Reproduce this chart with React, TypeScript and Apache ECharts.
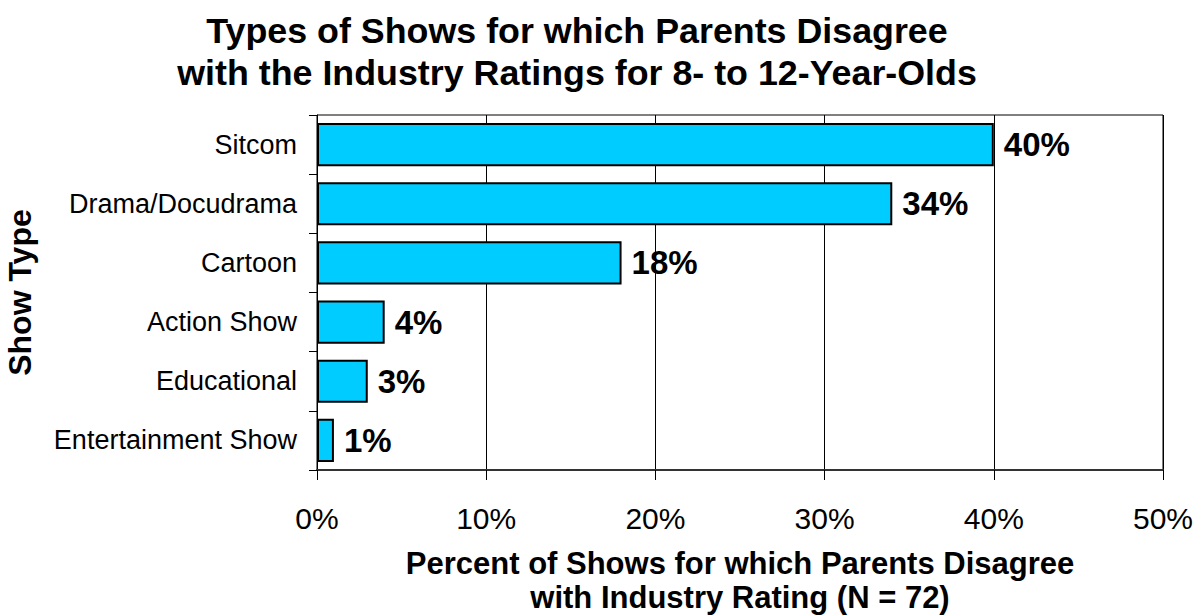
import React, { useEffect, useRef } from "react";
import * as echarts from "echarts";

const categories = ["Sitcom", "Drama/Docudrama", "Cartoon", "Action Show", "Educational", "Entertainment Show"];
const values = [40, 34, 18, 4, 3, 1];
const titleLines = ["Types of Shows for which Parents Disagree", "with the Industry Ratings for 8- to 12-Year-Olds"];
const xName = ["Percent of Shows for which Parents Disagree", "with Industry Rating (N = 72)"];
const yName = "Show Type";

const FONT = "'Liberation Sans', Arial, Helvetica, sans-serif";

export default function App() {
  const ref = useRef<HTMLDivElement>(null);
  useEffect(() => {
    document.body.style.margin = "0";
    const chart = echarts.init(ref.current!, undefined, { renderer: "svg" });
    chart.setOption({
      animation: false,
      backgroundColor: "#fff",
      textStyle: { fontFamily: FONT },
      title: {
        text: titleLines.join("\n"),
        left: 572,
        top: 5,
        textAlign: "center",
        textStyle: { fontFamily: FONT, fontSize: 35.8, fontWeight: "bold", color: "#000", lineHeight: 42 },
      },
      grid: {
        left: 317,
        right: 41,
        top: 115,
        bottom: 146,
        outerBoundsMode: "none",
        containLabel: false,
        show: true,
        borderColor: "#000",
        borderWidth: 1,
      },
      xAxis: {
        type: "value",
        min: 0,
        max: 50,
        interval: 10,
        name: xName.join("\n"),
        nameLocation: "middle",
        nameGap: 76,
        nameTextStyle: { fontFamily: FONT, fontSize: 31, fontWeight: "bold", color: "#000", lineHeight: 34 },
        axisLine: { show: true, lineStyle: { color: "#333", width: 2 } },
        axisTick: { show: true, length: 10, lineStyle: { color: "#000" } },
        axisLabel: { formatter: "{value}%", fontFamily: FONT, fontSize: 30, color: "#000", margin: 33 },
        splitLine: { show: true, lineStyle: { color: "#000", width: 1 } },
      },
      yAxis: {
        type: "category",
        data: categories,
        inverse: true,
        name: yName,
        nameLocation: "middle",
        nameGap: 281,
        nameRotate: 90,
        nameTextStyle: { fontFamily: FONT, fontSize: 32, fontWeight: "bold", color: "#000" },
        axisLine: { show: true, lineStyle: { color: "#000", width: 1 } },
        axisTick: { show: true, length: 8, lineStyle: { color: "#000" } },
        axisLabel: { fontFamily: FONT, fontSize: 27, color: "#000", margin: 20 },
        splitLine: { show: false },
      },
      series: [
        {
          type: "bar",
          data: values,
          barCategoryGap: "27%",
          itemStyle: { color: "#00CCFF", borderColor: "#000", borderWidth: 2 },
          label: {
            show: true,
            position: "right",
            distance: 10,
            formatter: "{c}%",
            fontFamily: FONT,
            fontSize: 33,
            fontWeight: "bold",
            color: "#000",
          },
        },
      ],
    });
    return () => chart.dispose();
  }, []);
  return <div ref={ref} style={{ width: 1204, height: 616 }} />;
}
